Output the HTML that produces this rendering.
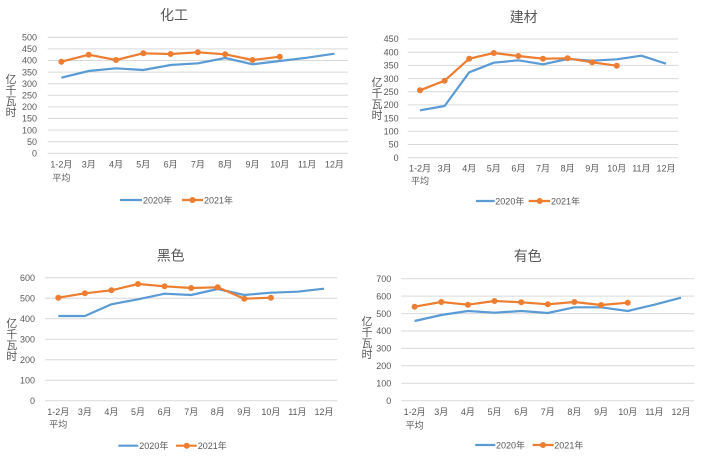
<!DOCTYPE html>
<html><head><meta charset="utf-8"><style>
html,body{margin:0;padding:0;background:#fff;}
svg{display:block;}
text{font-family:"Liberation Sans","Noto Sans CJK SC",sans-serif;fill:#595959;}
.t{font-size:14px;text-anchor:middle;}
.yl{font-size:9px;text-anchor:end;}
.xl{font-size:9px;text-anchor:middle;}
.ya{font-size:11px;text-anchor:middle;}
.lg{font-size:9px;}
.g{stroke:#d9d9d9;stroke-width:1;}
.b{fill:none;stroke:#5b9bd5;stroke-width:2.2;stroke-linejoin:round;}
.o{fill:none;stroke:#ed7d31;stroke-width:2.2;stroke-linejoin:round;}
.m{fill:#ed7d31;}
</style></head><body>
<svg width="704" height="460" viewBox="0 0 704 460" xmlns="http://www.w3.org/2000/svg">
<!-- Chart 1 化工 -->
<text class="t" x="174" y="20">化工</text>
<g>
<line class="g" x1="47.7" x2="348" y1="37.3" y2="37.3"/><line class="g" x1="47.7" x2="348" y1="48.9" y2="48.9"/><line class="g" x1="47.7" x2="348" y1="60.5" y2="60.5"/><line class="g" x1="47.7" x2="348" y1="72.1" y2="72.1"/><line class="g" x1="47.7" x2="348" y1="83.7" y2="83.7"/><line class="g" x1="47.7" x2="348" y1="95.3" y2="95.3"/><line class="g" x1="47.7" x2="348" y1="106.9" y2="106.9"/><line class="g" x1="47.7" x2="348" y1="118.5" y2="118.5"/><line class="g" x1="47.7" x2="348" y1="130.1" y2="130.1"/><line class="g" x1="47.7" x2="348" y1="141.7" y2="141.7"/><line class="g" x1="47.7" x2="348" y1="153.3" y2="153.3"/>
</g>
<g class="yl">
<text class="yl" x="37" y="40.5">500</text><text class="yl" x="37" y="52.1">450</text><text class="yl" x="37" y="63.7">400</text><text class="yl" x="37" y="75.3">350</text><text class="yl" x="37" y="86.9">300</text><text class="yl" x="37" y="98.5">250</text><text class="yl" x="37" y="110.1">200</text><text class="yl" x="37" y="121.7">150</text><text class="yl" x="37" y="133.3">100</text><text class="yl" x="37" y="144.9">50</text><text class="yl" x="37" y="156.5">0</text>
</g>
<text class="ya" x="11" y="83">亿</text><text class="ya" x="11" y="94">千</text><text class="ya" x="11" y="105">瓦</text><text class="ya" x="11" y="116">时</text>
<g>
<text class="xl" x="61.4" y="167.5">1-2月</text><text class="xl" x="61.4" y="181">平均</text>
<text class="xl" x="88.7" y="167.5">3月</text><text class="xl" x="116" y="167.5">4月</text><text class="xl" x="143.3" y="167.5">5月</text><text class="xl" x="170.6" y="167.5">6月</text><text class="xl" x="197.9" y="167.5">7月</text><text class="xl" x="225.2" y="167.5">8月</text><text class="xl" x="252.5" y="167.5">9月</text><text class="xl" x="279.8" y="167.5">10月</text><text class="xl" x="307.1" y="167.5">11月</text><text class="xl" x="334.4" y="167.5">12月</text>
</g>
<polyline class="b" points="61.4,77.7 88.7,71 116,68.3 143.3,70 170.6,65 197.9,63.3 225.2,58 252.5,64.3 279.8,61 307.1,57.7 334.4,53.7"/>
<polyline class="o" points="61.4,61.7 88.7,54.7 116,60 143.3,53.3 170.6,54 197.9,52.3 225.2,54.3 252.5,60 279.8,56.7"/>
<g class="m"><circle cx="61.4" cy="61.7" r="3"/><circle cx="88.7" cy="54.7" r="3"/><circle cx="116" cy="60" r="3"/><circle cx="143.3" cy="53.3" r="3"/><circle cx="170.6" cy="54" r="3"/><circle cx="197.9" cy="52.3" r="3"/><circle cx="225.2" cy="54.3" r="3"/><circle cx="252.5" cy="60" r="3"/><circle cx="279.8" cy="56.7" r="3"/></g>
<line x1="120" x2="142" y1="200" y2="200" stroke="#5b9bd5" stroke-width="2.2"/>
<text class="lg" x="143" y="203.3">2020年</text>
<line x1="182" x2="203" y1="200" y2="200" stroke="#ed7d31" stroke-width="2.2"/><circle class="m" cx="192.5" cy="200" r="3"/>
<text class="lg" x="204" y="203.3">2021年</text>

<!-- Chart 2 建材 -->
<text class="t" x="523.7" y="22">建材</text>
<g>
<line class="g" x1="407.7" x2="678" y1="39" y2="39"/><line class="g" x1="407.7" x2="678" y1="52.2" y2="52.2"/><line class="g" x1="407.7" x2="678" y1="65.4" y2="65.4"/><line class="g" x1="407.7" x2="678" y1="78.6" y2="78.6"/><line class="g" x1="407.7" x2="678" y1="91.8" y2="91.8"/><line class="g" x1="407.7" x2="678" y1="104.9" y2="104.9"/><line class="g" x1="407.7" x2="678" y1="118.1" y2="118.1"/><line class="g" x1="407.7" x2="678" y1="131.3" y2="131.3"/><line class="g" x1="407.7" x2="678" y1="144.5" y2="144.5"/><line class="g" x1="407.7" x2="678" y1="157.7" y2="157.7"/>
</g>
<text class="yl" x="398.7" y="42.2">450</text><text class="yl" x="398.7" y="55.4">400</text><text class="yl" x="398.7" y="68.6">350</text><text class="yl" x="398.7" y="81.8">300</text><text class="yl" x="398.7" y="95">250</text><text class="yl" x="398.7" y="108.1">200</text><text class="yl" x="398.7" y="121.3">150</text><text class="yl" x="398.7" y="134.5">100</text><text class="yl" x="398.7" y="147.7">50</text><text class="yl" x="398.7" y="160.9">0</text>
<text class="ya" x="377" y="86">亿</text><text class="ya" x="377" y="97">千</text><text class="ya" x="377" y="108">瓦</text><text class="ya" x="377" y="119">时</text>
<g>
<text class="xl" x="420" y="171.5">1-2月</text><text class="xl" x="420" y="184">平均</text>
<text class="xl" x="444.6" y="171.5">3月</text><text class="xl" x="469.2" y="171.5">4月</text><text class="xl" x="493.8" y="171.5">5月</text><text class="xl" x="518.4" y="171.5">6月</text><text class="xl" x="543" y="171.5">7月</text><text class="xl" x="567.6" y="171.5">8月</text><text class="xl" x="592.2" y="171.5">9月</text><text class="xl" x="616.8" y="171.5">10月</text><text class="xl" x="641.4" y="171.5">11月</text><text class="xl" x="666" y="171.5">12月</text>
</g>
<polyline class="b" points="420,110.3 444.6,106 469.2,72.3 493.8,62.7 518.4,60.3 543,64.3 567.6,59 592.2,60.7 616.8,59.3 641.4,55.7 666,63.7"/>
<polyline class="o" points="420,90.3 444.6,80.7 469.2,58.7 493.8,53 518.4,56 543,58.7 567.6,58.3 592.2,62.3 616.8,65.7"/>
<g class="m"><circle cx="420" cy="90.3" r="3"/><circle cx="444.6" cy="80.7" r="3"/><circle cx="469.2" cy="58.7" r="3"/><circle cx="493.8" cy="53" r="3"/><circle cx="518.4" cy="56" r="3"/><circle cx="543" cy="58.7" r="3"/><circle cx="567.6" cy="58.3" r="3"/><circle cx="592.2" cy="62.3" r="3"/><circle cx="616.8" cy="65.7" r="3"/></g>
<line x1="476" x2="494.7" y1="201" y2="201" stroke="#5b9bd5" stroke-width="2.2"/>
<text class="lg" x="495.3" y="204.3">2020年</text>
<line x1="528.7" x2="550" y1="201" y2="201" stroke="#ed7d31" stroke-width="2.2"/><circle class="m" cx="539.7" cy="201" r="3"/>
<text class="lg" x="551" y="204.3">2021年</text>

<!-- Chart 3 黑色 -->
<text class="t" x="170.7" y="260.7">黑色</text>
<g>
<line class="g" x1="45" x2="337.3" y1="277.7" y2="277.7"/><line class="g" x1="45" x2="337.3" y1="298.2" y2="298.2"/><line class="g" x1="45" x2="337.3" y1="318.7" y2="318.7"/><line class="g" x1="45" x2="337.3" y1="339.2" y2="339.2"/><line class="g" x1="45" x2="337.3" y1="359.7" y2="359.7"/><line class="g" x1="45" x2="337.3" y1="380.2" y2="380.2"/><line class="g" x1="45" x2="337.3" y1="400.7" y2="400.7"/>
</g>
<text class="yl" x="35" y="280.9">600</text><text class="yl" x="35" y="301.4">500</text><text class="yl" x="35" y="321.9">400</text><text class="yl" x="35" y="342.4">300</text><text class="yl" x="35" y="362.9">200</text><text class="yl" x="35" y="383.4">100</text><text class="yl" x="35" y="403.9">0</text>
<text class="ya" x="11.7" y="327">亿</text><text class="ya" x="11.7" y="338">千</text><text class="ya" x="11.7" y="349">瓦</text><text class="ya" x="11.7" y="360">时</text>
<g>
<text class="xl" x="58.3" y="415">1-2月</text><text class="xl" x="58.3" y="427.5">平均</text>
<text class="xl" x="84.9" y="415">3月</text><text class="xl" x="111.4" y="415">4月</text><text class="xl" x="138" y="415">5月</text><text class="xl" x="164.6" y="415">6月</text><text class="xl" x="191.2" y="415">7月</text><text class="xl" x="217.7" y="415">8月</text><text class="xl" x="244.3" y="415">9月</text><text class="xl" x="270.9" y="415">10月</text><text class="xl" x="297.4" y="415">11月</text><text class="xl" x="324" y="415">12月</text>
</g>
<polyline class="b" points="58.3,316 84.9,316 111.4,304.3 138,299.3 164.6,293.7 191.2,295 217.7,289 244.3,295 270.9,292.7 297.4,291.7 324,288.7"/>
<polyline class="o" points="58.3,297.7 84.9,293.3 111.4,290.3 138,284 164.6,286.3 191.2,288 217.7,287.3 244.3,298.7 270.9,297.7"/>
<g class="m"><circle cx="58.3" cy="297.7" r="3"/><circle cx="84.9" cy="293.3" r="3"/><circle cx="111.4" cy="290.3" r="3"/><circle cx="138" cy="284" r="3"/><circle cx="164.6" cy="286.3" r="3"/><circle cx="191.2" cy="288" r="3"/><circle cx="217.7" cy="287.3" r="3"/><circle cx="244.3" cy="298.7" r="3"/><circle cx="270.9" cy="297.7" r="3"/></g>
<line x1="118.3" x2="138.3" y1="445.7" y2="445.7" stroke="#5b9bd5" stroke-width="2.2"/>
<text class="lg" x="139.3" y="449">2020年</text>
<line x1="176" x2="196.7" y1="445.7" y2="445.7" stroke="#ed7d31" stroke-width="2.2"/><circle class="m" cx="186.7" cy="445.7" r="3"/>
<text class="lg" x="197.7" y="449">2021年</text>

<!-- Chart 4 有色 -->
<text class="t" x="527.7" y="261">有色</text>
<g>
<line class="g" x1="401.3" x2="694.3" y1="278.7" y2="278.7"/><line class="g" x1="401.3" x2="694.3" y1="296.1" y2="296.1"/><line class="g" x1="401.3" x2="694.3" y1="313.6" y2="313.6"/><line class="g" x1="401.3" x2="694.3" y1="331" y2="331"/><line class="g" x1="401.3" x2="694.3" y1="348.4" y2="348.4"/><line class="g" x1="401.3" x2="694.3" y1="365.8" y2="365.8"/><line class="g" x1="401.3" x2="694.3" y1="383.3" y2="383.3"/><line class="g" x1="401.3" x2="694.3" y1="400.7" y2="400.7"/>
</g>
<text class="yl" x="391.3" y="281.9">700</text><text class="yl" x="391.3" y="299.3">600</text><text class="yl" x="391.3" y="316.8">500</text><text class="yl" x="391.3" y="334.2">400</text><text class="yl" x="391.3" y="351.6">300</text><text class="yl" x="391.3" y="369">200</text><text class="yl" x="391.3" y="386.5">100</text><text class="yl" x="391.3" y="403.9">0</text>
<text class="ya" x="367" y="325">亿</text><text class="ya" x="367" y="336">千</text><text class="ya" x="367" y="347">瓦</text><text class="ya" x="367" y="358">时</text>
<g>
<text class="xl" x="414.6" y="415">1-2月</text><text class="xl" x="414.6" y="428.5">平均</text>
<text class="xl" x="441.3" y="415">3月</text><text class="xl" x="467.9" y="415">4月</text><text class="xl" x="494.5" y="415">5月</text><text class="xl" x="521.2" y="415">6月</text><text class="xl" x="547.8" y="415">7月</text><text class="xl" x="574.4" y="415">8月</text><text class="xl" x="601.1" y="415">9月</text><text class="xl" x="627.7" y="415">10月</text><text class="xl" x="654.4" y="415">11月</text><text class="xl" x="681" y="415">12月</text>
</g>
<polyline class="b" points="414.6,321 441.3,315 467.9,311 494.5,312.7 521.2,311 547.8,313 574.4,307.3 601.1,307.3 627.7,311 654.4,304.7 681,297.7"/>
<polyline class="o" points="414.6,306.7 441.3,302 467.9,304.7 494.5,301 521.2,302.3 547.8,304.3 574.4,302 601.1,305 627.7,302.7"/>
<g class="m"><circle cx="414.6" cy="306.7" r="3"/><circle cx="441.3" cy="302" r="3"/><circle cx="467.9" cy="304.7" r="3"/><circle cx="494.5" cy="301" r="3"/><circle cx="521.2" cy="302.3" r="3"/><circle cx="547.8" cy="304.3" r="3"/><circle cx="574.4" cy="302" r="3"/><circle cx="601.1" cy="305" r="3"/><circle cx="627.7" cy="302.7" r="3"/></g>
<line x1="475.3" x2="495.3" y1="445" y2="445" stroke="#5b9bd5" stroke-width="2.2"/>
<text class="lg" x="496" y="448.3">2020年</text>
<line x1="532.7" x2="553.7" y1="445" y2="445" stroke="#ed7d31" stroke-width="2.2"/><circle class="m" cx="543" cy="445" r="3"/>
<text class="lg" x="554.3" y="448.3">2021年</text>
</svg>
</body></html>
